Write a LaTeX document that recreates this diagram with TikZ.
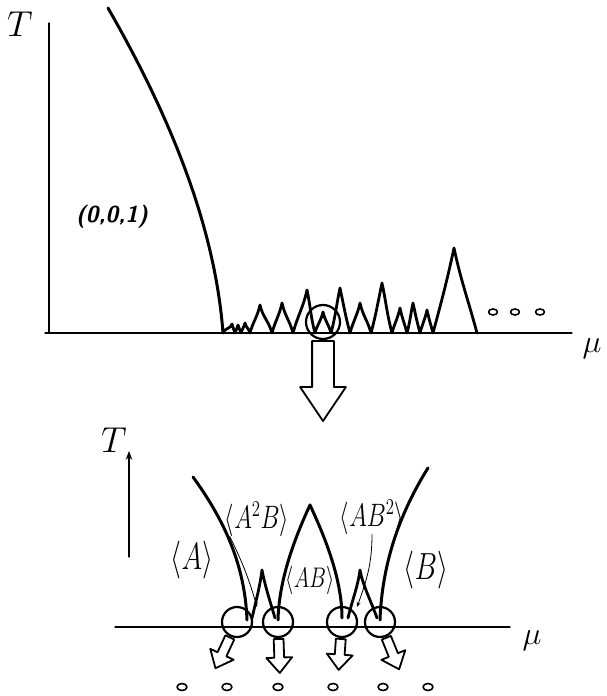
\RequirePackage{fix-cm}
\documentclass[tikz,border=0pt]{standalone}
\usepackage{fontspec}
\usetikzlibrary{arrows.meta,shapes.arrows}
\newcommand{\tallbox}[1]{\scalebox{1}[1.35]{#1}}

\begin{document}
\begin{tikzpicture}[x=1pt,y=1pt,>=Stealth,line cap=round,line join=round,
ax/.style={line width=1.3pt},
bound/.style={line width=3pt},
spikes/.style={line width=2.8pt},
ring/.style={draw,circle,line width=2.2pt,minimum size=30pt,inner sep=0pt},
hollow/.style={draw,line width=1.8pt,fill=white,single arrow,inner xsep=0pt,
  inner ysep=4pt,minimum height=34pt,single arrow head extend=8pt,
  single arrow tip angle=80,anchor=tail},
lab/.style={font=\fontsize{24}{24}\selectfont,inner sep=0pt},
big/.style={font=\fontsize{36}{36}\selectfont,inner sep=0pt},
lead/.style={line width=0.8pt,->,>={Stealth[length=5pt,width=4pt]}},
dot/.style={line width=1.6pt}]
\useasboundingbox (0,0) rectangle (606,696);

% upper diagram
\coordinate (o1) at (49,363);
\draw[ax] (49,673) -- (o1);
\draw[ax] (45,363) -- (572,363);
\node[big] (T1) at (20,672) {$T$};
\node[big,font=\fontsize{32}{32}\selectfont] (mu1) at (592,347) {$\mu$};
\draw[bound] (108,688) .. controls (170,580) and (215,470) .. (223,363);
\node[font=\sffamily\bfseries\slshape\fontsize{23}{23}\selectfont] (lab001) at (112,479) {(0,0,1)};
\draw[spikes] (223,363)
  \foreach \p/\h/\v in {232/372/235,238/371/241,245/373/250,260/391/272,282/393/293,
    307/406/315,323/384/331,340/408/350,360/393/371,382/413/392,400/388/407,
    413/393/420,427/386/433,454/448/477} {
    to[out=75,in=-102] (\p,\h) to[out=-78,in=105] (\v,363)};
\node[ring,minimum size=34pt] (w) at (323,374) {};
\node[hollow,inner ysep=10pt,minimum height=80pt,single arrow head extend=12pt,
  single arrow tip angle=68,rotate=-90] (zoomin) at (w.south) {};
\foreach \x in {493,515,540} \draw[dot] (\x,384) ellipse (4.5pt and 3pt);

% lower diagram
\draw[ax] (115,69) -- (510,69);
\draw[ax,->] (129,139) -- (129,245);
\node[big] (T2) at (114,256) {$T$};
\node[big,font=\fontsize{32}{32}\selectfont] (mu2) at (532,55) {$\mu$};
\node[ring] (c1) at (237,74) {};
\node[ring] (c2) at (278,74) {};
\node[ring] (c3) at (342,74) {};
\node[ring] (c4) at (380,74) {};
\draw[bound] (193,219) .. controls (225,175) and (245,130) .. (247,76);
\draw[bound] (428,228) .. controls (398,180) and (382,130) .. (380,76);
\draw[bound] (278,76) .. controls (279,120) and (298,165) .. (310,191)
  .. controls (322,165) and (342,120) .. (342,78);
\draw[spikes] (252,78) .. controls (256,95) and (260,110) .. (262,126)
  .. controls (265,110) and (270,95) .. (275,78);
\draw[spikes] (348,78) .. controls (352,95) and (358,110) .. (360,126)
  .. controls (363,110) and (371,95) .. (377,78);
\node[lab,font=\fontsize{28}{28}\selectfont] (A) at (192,136) {\tallbox{$\langle A\rangle$}};
\node[lab] (A2B) at (257,177) {\tallbox{$\langle A^2B\rangle$}};
\node[lab,font=\fontsize{21}{21}\selectfont] (AB) at (310,116) {\tallbox{$\langle AB\rangle$}};
\node[lab] (AB2) at (372,179) {\tallbox{$\langle AB^2\rangle$}};
\node[lab,font=\fontsize{28}{28}\selectfont] (B) at (426,126) {\tallbox{$\langle B\rangle$}};
\coordinate (p1) at (257,89);
\coordinate (p2) at (357,89);
\draw[lead] (A2B.south west) ++(5,0) to[bend left=5] (p1);
\draw[lead] (AB2.south) to[out=-90,in=70] (p2);
\node[hollow,rotate=245] (h1) at (c1.245) {};
\node[hollow,rotate=-88] (h2) at (c2.272) {};
\node[hollow,rotate=-94,minimum height=31pt] (h3) at (c3.266) {};
\node[hollow,rotate=-68] (h4) at (c4.292) {};
\foreach \x in {182,227,278,333,383,428} \draw[dot] (\x,9) ellipse (5pt and 3.5pt);
\end{tikzpicture}
\end{document}
